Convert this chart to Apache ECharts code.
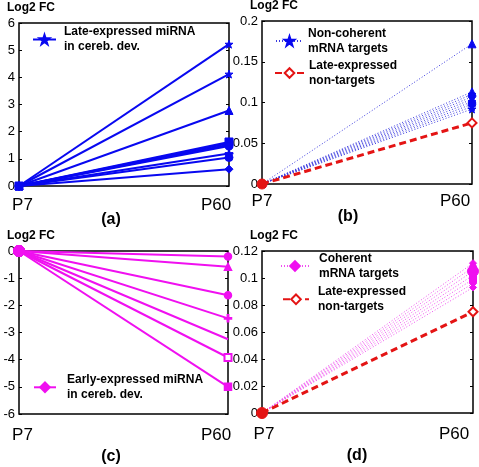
<!DOCTYPE html>
<html>
<head>
<meta charset="utf-8">
<script src="https://cdn.jsdelivr.net/npm/echarts@6/dist/echarts.min.js"></script>
<style>html,body{margin:0;padding:0;background:#fff;}#c{width:479px;height:467px;}</style>
</head>
<body>
<div id="c"></div>
<script>
// ---------- data ----------
const categories = ['P7', 'P60'];
const startValue = 0;                        // every curve starts at 0 at P7
const lateMiRNA = [5.22, 4.12, 2.78, 1.62, 1.57, 1.52, 1.47, 1.2, 1.05, 0.62];
const nonCoherentTargets = [0.172, 0.113, 0.110, 0.107, 0.104, 0.101, 0.098, 0.095, 0.092];
const lateNonTargetsB = [0.075];
const earlyMiRNA = [-0.2, -0.58, -1.63, -2.48, -3.25, -3.92, -5.0];
const coherentTargets = [0.111, 0.108, 0.105, 0.102, 0.099, 0.096, 0.093];
const lateNonTargetsD = [0.075];
const panelLabels = ['(a)', '(b)', '(c)', '(d)'];
const yTitle = 'Log2 FC';
const nameLateMiRNA = 'Late-expressed miRNA\nin cereb. dev.';
const nameEarlyMiRNA = 'Early-expressed miRNA\nin cereb. dev.';
const nameNonCoherent = 'Non-coherent\nmRNA targets';
const nameCoherent = 'Coherent\nmRNA targets';
const nameNonTargets = 'Late-expressed\nnon-targets';
const yRanges = [[0, 6, 1], [0, 0.2, 0.05], [-6, 0, 1], [0, 0.12, 0.02]];

// ---------- styles ----------
const FONT = 'Liberation Sans, Arial, sans-serif';
const BLUE = '#0808f0', MAG = '#f010f0', RED = '#e41414';
const BLUE_DOT = '#3a3ae0', MAG_DOT = '#f050f0';
const STAR = 'path://M50,0 L61.8,35.1 L98.9,35.1 L68.9,56.9 L80.3,92 L50,70.3 L19.7,92 L31.1,56.9 L1.1,35.1 L38.2,35.1 Z';
const PLUS = 'path://M4,0 H6 V4 H10 V6 H6 V10 H4 V6 H0 V4 H4 Z';
const markersA = [STAR, STAR, 'triangle', 'rect', 'triangle', 'diamond', 'circle', PLUS, 'circle', 'diamond'];
const markersB = ['triangle', 'triangle', STAR, 'diamond', 'triangle', STAR, 'diamond', STAR, STAR];
const markersC = ['circle', 'triangle', 'circle', PLUS, 'none', 'emptyRect', 'rect'];
const markersD = ['diamond', 'circle', 'circle', 'rect', 'rect', 'diamond', 'diamond'];

const grids = [
  {left: 19, top: 23, width: 210, height: 163},
  {left: 262, top: 21, width: 210, height: 163},
  {left: 19, top: 251, width: 209, height: 163},
  {left: 262, top: 251, width: 211, height: 162}
];
const xLabelMargin = [11, 9, 13, 13];
const xLabelShift = [[7, 26], [0, 34], [7, 24], [4, 38]]; // [P7 left pad, P60 right pad]

const xAxes = grids.map((g, i) => ({
  type: 'category', gridIndex: i, data: categories, boundaryGap: false,
  axisLine: {show: false}, axisTick: {show: false}, splitLine: {show: false},
  axisLabel: {
    interval: 0, margin: xLabelMargin[i], color: '#000', fontSize: 17, fontFamily: FONT,
    formatter: v => (v === categories[0] ? '{l|' + v + '}' : '{r|' + v + '}'),
    rich: {
      l: {fontSize: 17, fontFamily: FONT, color: '#000', padding: [0, 0, 0, xLabelShift[i][0]]},
      r: {fontSize: 17, fontFamily: FONT, color: '#000', padding: [0, xLabelShift[i][1], 0, 0]}
    }
  }
}));

const yAxes = [];
grids.forEach((g, i) => {
  const [mn, mx, iv] = yRanges[i];
  yAxes.push({
    type: 'value', gridIndex: i, min: mn, max: mx, interval: iv, position: 'left',
    name: yTitle, nameLocation: 'end', nameGap: 9,
    nameTextStyle: {fontWeight: 'bold', fontSize: 12, fontFamily: FONT, color: '#000', padding: [0, 0, 0, 24]},
    axisLine: {show: false}, splitLine: {show: false},
    axisTick: {show: true, inside: true, length: 3, lineStyle: {color: '#000'}},
    axisLabel: {color: '#000', fontSize: 13, fontFamily: FONT, margin: 4}
  });
  yAxes.push({
    type: 'value', gridIndex: i, min: mn, max: mx, interval: iv, position: 'right',
    axisLine: {show: false}, splitLine: {show: false}, axisLabel: {show: false},
    axisTick: {show: true, inside: true, length: 3, lineStyle: {color: '#000'}}
  });
});

const series = [];
// legendSym: series-level symbol (shown in legend); endSym/endSize: marker at P60; startSym/startSize: marker at P7
function addLine(panel, name, value, lineColor, color, width, type, legendSym, endSym, endSize, startSym, startSize, border) {
  const st = {color: color, borderColor: color, borderWidth: border || 1};
  series.push({
    type: 'line', name: name, xAxisIndex: panel, yAxisIndex: panel * 2,
    data: [
      {value: startValue, symbol: startSym || endSym, symbolSize: startSize || endSize, itemStyle: {color: color, borderColor: color, borderWidth: 1}},
      {value: value, symbol: endSym, symbolSize: endSize, itemStyle: st}
    ],
    symbol: legendSym, symbolSize: endSize, showSymbol: true, clip: false,
    lineStyle: {color: lineColor, width: width, type: type},
    itemStyle: st,
    emphasis: {disabled: true}, silent: true
  });
}
lateMiRNA.forEach((v, k) => addLine(0, nameLateMiRNA, v, BLUE, BLUE, 2, 'solid', STAR, markersA[k], 8, markersA[k], 8));
nonCoherentTargets.forEach((v, k) => addLine(1, nameNonCoherent, v, BLUE_DOT, BLUE, 1, [1, 2], STAR, markersB[k], 8, markersB[k], 7));
lateNonTargetsB.forEach(v => addLine(1, nameNonTargets, v, RED, RED, 3, [7, 4], 'emptyDiamond', 'emptyDiamond', 9, 'circle', 10, 4));
earlyMiRNA.forEach((v, k) => addLine(2, nameEarlyMiRNA, v, MAG, MAG, 2, 'solid', 'diamond', markersC[k], 7, 'circle', 11, 1.5));
coherentTargets.forEach((v, k) => addLine(3, nameCoherent, v, MAG_DOT, MAG, 1, [1, 2], 'diamond', markersD[k], k === 2 ? 11 : 7, 'circle', 7));
lateNonTargetsD.forEach(v => addLine(3, nameNonTargets, v, RED, RED, 3, [7, 4], 'emptyDiamond', 'emptyDiamond', 9, 'circle', 11, 4));

// legend entries
const L = 15;
function legendEntry(name, left, w, iconY, firstY, pad) {
  const P = Math.max(0, 2 * (firstY - iconY) + L);
  return {
    show: true, left: left, top: iconY - L - P / 2, padding: 0, itemWidth: w, itemHeight: 12,
    data: [name], selectedMode: false,
    textStyle: {fontSize: 12, fontWeight: 'bold', fontFamily: FONT, color: '#000', lineHeight: L, padding: [P, 0, 0, pad]}
  };
}
const legends = [
  legendEntry(nameLateMiRNA, 32, 23, 39.5, 38, 3),
  legendEntry(nameNonCoherent, 275, 27, 41, 36, 0),
  legendEntry(nameNonTargets, 274, 29, 73, 72.7, 0),
  legendEntry(nameEarlyMiRNA, 33, 22, 387.3, 386.7, 6),
  legendEntry(nameCoherent, 280, 28, 266, 264, 5),
  legendEntry(nameNonTargets, 282, 26, 299.3, 298.3, 4)
];

const labelPos = [[111, 220], [348, 217], [111, 457], [357, 456]];
const graphics = panelLabels.map((t, i) => ({
  type: 'text', x: labelPos[i][0], y: labelPos[i][1],
  style: {text: t, font: 'bold 16px ' + FONT, fill: '#000', align: 'center', verticalAlign: 'middle'}
}));

const chart = echarts.init(document.getElementById('c'), null, {renderer: 'canvas'});
chart.setOption({
  animation: false,
  backgroundColor: '#fff',
  grid: grids.map(g => Object.assign({show: true, borderColor: '#000', borderWidth: 1.5, containLabel: false}, g)),
  xAxis: xAxes,
  yAxis: yAxes,
  legend: legends,
  series: series,
  graphic: graphics
});
</script>
</body>
</html>
